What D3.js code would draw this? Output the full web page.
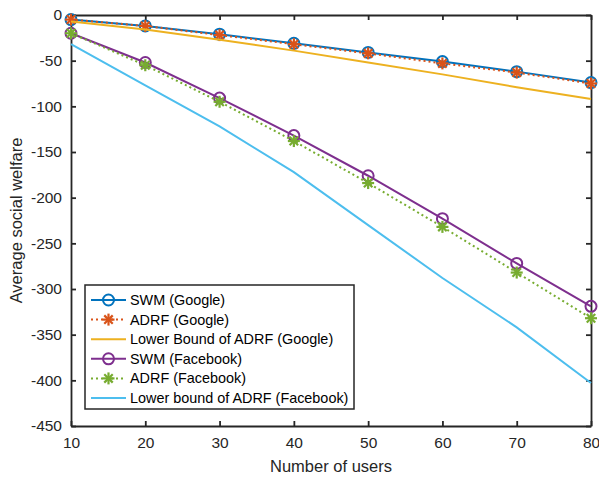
<!DOCTYPE html>
<html>
<head>
<meta charset="utf-8">
<script src="https://cdn.jsdelivr.net/npm/d3@7"></script>
<style>
  body { margin: 0; background: #fff; }
  text { font-family: "Liberation Sans", Arial, sans-serif; }
</style>
</head>
<body>
<div id="chart"></div>
<script>
// data
var users = [10, 20, 30, 40, 50, 60, 70, 80];
var swmGoogle = [-5, -12, -21, -31, -41, -51, -62, -74];
var adrfGoogle = [-5, -12, -22, -32, -42, -53, -63, -75];
var lbGoogle = [-7, -16, -27, -39, -52, -65, -79, -92];
var swmFacebook = [-20, -52, -91, -132, -176, -223, -272, -319];
var adrfFacebook = [-20, -55, -95, -138, -184, -232, -282, -332];
var lbFacebook = [-32, -77, -122, -172, -230, -288, -342, -403];
var xTicks = [10, 20, 30, 40, 50, 60, 70, 80];
var yTicks = [0, -50, -100, -150, -200, -250, -300, -350, -400, -450];

var series = [
  {name: "SWM (Google)", values: swmGoogle, color: "#0072BD", dash: null, marker: "circle"},
  {name: "ADRF (Google)", values: adrfGoogle, color: "#D95319", dash: "2,3", marker: "star"},
  {name: "Lower Bound of ADRF (Google)", values: lbGoogle, color: "#EDB120", dash: null, marker: null},
  {name: "SWM (Facebook)", values: swmFacebook, color: "#7E2F8E", dash: null, marker: "circle"},
  {name: "ADRF (Facebook)", values: adrfFacebook, color: "#77AC30", dash: "2,3", marker: "star"},
  {name: "Lower bound of ADRF (Facebook)", values: lbFacebook, color: "#4DBEEE", dash: null, marker: null}
];

var W = 599, H = 477;
var margin = {top: 15, right: 8, bottom: 51, left: 71};
var width = W - margin.left - margin.right,
    height = H - margin.top - margin.bottom;

var svg = d3.select("#chart").append("svg")
    .attr("width", W).attr("height", H);
var g = svg.append("g")
    .attr("transform", "translate(" + margin.left + "," + margin.top + ")");

var x = d3.scaleLinear().domain([10, 80]).range([0, width]);
var y = d3.scaleLinear().domain([-450, 0]).range([height, 0]);

var line = d3.line()
    .x(function(d, i) { return x(users[i]); })
    .y(function(d) { return y(d); });

function styleAxis(sel) {
  sel.selectAll("path").attr("stroke", "#262626").attr("stroke-width", 1.8);
  sel.selectAll("line").attr("stroke", "#262626").attr("stroke-width", 1.8);
  sel.selectAll("text").attr("fill", "#262626").style("font-size", "15.5px");
}

var fmt = function(d) { return String(d); };

// axes, ticks inward on all four sides
g.append("g").attr("transform", "translate(0," + height + ")")
  .call(d3.axisBottom(x).tickValues(xTicks).tickFormat(fmt).tickSizeInner(-5).tickSizeOuter(0).tickPadding(11))
  .call(styleAxis);
g.append("g")
  .call(d3.axisLeft(y).tickValues(yTicks).tickFormat(fmt).tickSizeInner(-5).tickSizeOuter(0).tickPadding(9))
  .call(styleAxis);
g.append("g")
  .call(d3.axisTop(x).tickValues(xTicks).tickSizeInner(-5).tickSizeOuter(0).tickFormat(""))
  .call(styleAxis);
g.append("g").attr("transform", "translate(" + width + ",0)")
  .call(d3.axisRight(y).tickValues(yTicks).tickSizeInner(-5).tickSizeOuter(0).tickFormat(""))
  .call(styleAxis);

function drawMarker(sel, type, color, cx, cy) {
  if (type === "circle") {
    sel.append("circle").attr("cx", cx).attr("cy", cy).attr("r", 5.5)
      .attr("fill", "none").attr("stroke", color).attr("stroke-width", 2);
  } else if (type === "star") {
    var r = 6;
    [0, 45, 90, 135].forEach(function(a) {
      var rad = a * Math.PI / 180;
      sel.append("line")
        .attr("x1", cx - r * Math.cos(rad)).attr("y1", cy - r * Math.sin(rad))
        .attr("x2", cx + r * Math.cos(rad)).attr("y2", cy + r * Math.sin(rad))
        .attr("stroke", color).attr("stroke-width", 2.2);
    });
  }
}

var plot = g.append("g");
series.forEach(function(s) {
  plot.append("path")
    .attr("d", line(s.values))
    .attr("fill", "none")
    .attr("stroke", s.color)
    .attr("stroke-width", 2)
    .attr("stroke-dasharray", s.dash);
  if (s.marker) {
    var mg = plot.append("g");
    s.values.forEach(function(v, i) {
      drawMarker(mg, s.marker, s.color, x(users[i]), y(v));
    });
  }
});

// axis titles
svg.append("text")
  .attr("x", margin.left + width / 2).attr("y", 472)
  .attr("text-anchor", "middle").attr("fill", "#262626")
  .style("font-size", "16.5px").text("Number of users");
svg.append("text")
  .attr("transform", "translate(22," + (margin.top + height / 2) + ") rotate(-90)")
  .attr("text-anchor", "middle").attr("fill", "#262626")
  .style("font-size", "16.5px").text("Average social welfare");

// legend
var leg = svg.append("g").attr("transform", "translate(85,285)");
leg.append("rect").attr("width", 269).attr("height", 124)
  .attr("fill", "#fff").attr("stroke", "#262626").attr("stroke-width", 1.5);
series.forEach(function(s, i) {
  var yy = 15 + i * 19.6;
  leg.append("line").attr("x1", 6).attr("x2", 41).attr("y1", yy).attr("y2", yy)
    .attr("stroke", s.color).attr("stroke-width", 2)
    .attr("stroke-dasharray", s.dash);
  if (s.marker) drawMarker(leg, s.marker, s.color, 23.5, yy);
  leg.append("text").attr("x", 45).attr("y", yy + 5)
    .attr("fill", "#000").style("font-size", "14.4px").text(s.name);
});
</script>
</body>
</html>
